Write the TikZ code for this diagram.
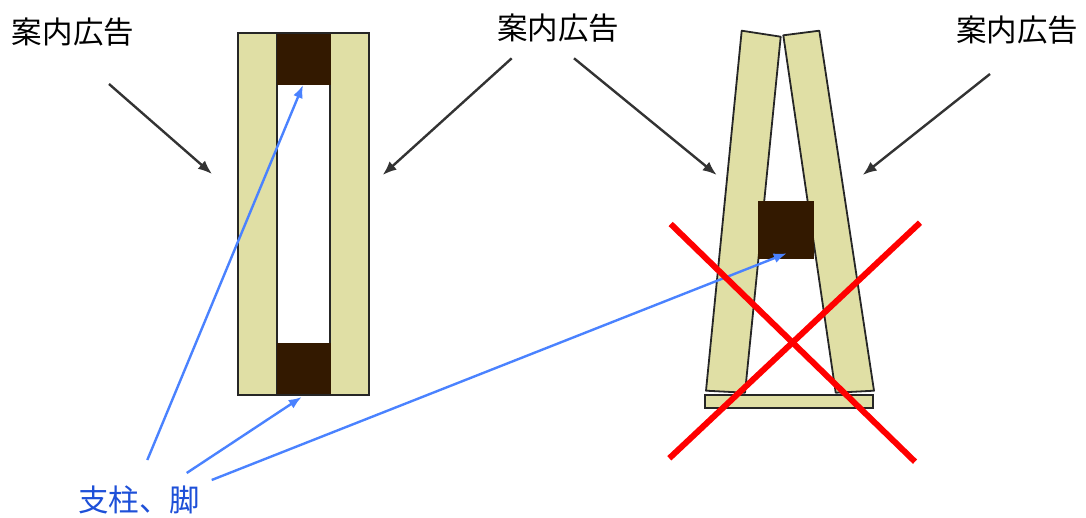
\documentclass[tikz,border=0pt]{standalone}
\usepackage{fontspec}
\newfontfamily\jpfont{Noto Sans CJK JP}
\usetikzlibrary{arrows.meta}
\definecolor{beige}{HTML}{E0DFA5}
\definecolor{darkpost}{HTML}{331900}
\definecolor{arrowblue}{HTML}{4A82FF}
\definecolor{textblue}{HTML}{1E50D8}
\definecolor{xred}{HTML}{FF0000}
\tikzset{
  panel/.style={fill=beige, draw=black!85, line width=1.8pt},
  post/.style={fill=darkpost, draw=darkpost, line width=0.8pt},
  label/.style={font=\jpfont\fontsize{30.5}{34}\selectfont, inner sep=0pt},
  blackarrow/.style={draw=black!80, line width=2.4pt, -{Latex[length=14pt,width=11pt]}},
  bluearrow/.style={draw=arrowblue, line width=2.4pt, -{Latex[length=13pt,width=10pt]}},
  cross/.style={draw=xred, line width=6pt}
}
\begin{document}
\begin{tikzpicture}[x=1pt,y=-1pt]
\useasboundingbox (0,0) rectangle (1086,518);

% ---- left figure (correct) ----
\draw[panel] (238,33) rectangle (277,395);
\draw[panel] (330,33) rectangle (369,395);
\draw[post] (277,33) rectangle (330,84);
\draw[post] (277,343) rectangle (330,395);
\draw[black!85, line width=1.8pt] (238,33) rectangle (369,395);

% ---- right figure (wrong) ----
\draw[panel, line join=round] (741.7,30.7) -- (780.7,36.7) -- (745,392.7) -- (706,390.7) -- cycle;
\draw[panel, line join=round] (783.3,35.3) -- (819.3,30.7) -- (874,390.7) -- (835.7,392.7) -- cycle;
\draw[panel] (705,395) rectangle (873.3,408.3);
\draw[post] (758.3,201.7) rectangle (813.3,258.3);

% ---- labels ----
\node[label] (adL)  at (73,32)  {案内広告};
\node[label] (adM)  at (558,28) {案内広告};
\node[label] (adR)  at (1017,30) {案内広告};
\node[label, text=textblue] (posts) at (139,500) {支柱、脚};

% ---- arrow end points ----
\coordinate (a1s) at (109,84);    \coordinate (a1e) at (212,174);
\coordinate (a2s) at (511.7,58.3);\coordinate (a2e) at (382.7,175);
\coordinate (a3s) at (574,58.3);  \coordinate (a3e) at (716.7,175);
\coordinate (a4s) at (990,74);    \coordinate (a4e) at (862.7,175);

\coordinate (b1s) at (147.3,460); \coordinate (b1e) at (303,85);
\coordinate (b2s) at (186.7,473); \coordinate (b2e) at (301.7,397);
\coordinate (b3s) at (211.7,480); \coordinate (b3e) at (786.7,253.3);

\draw[blackarrow] (a1s) -- (a1e);
\draw[blackarrow] (a2s) -- (a2e);
\draw[blackarrow] (a3s) -- (a3e);
\draw[blackarrow] (a4s) -- (a4e);

\draw[bluearrow] (b1s) -- (b1e);
\draw[bluearrow] (b2s) -- (b2e);
\draw[bluearrow] (b3s) -- (b3e);

% ---- red cross ----
\coordinate (x1s) at (670.7,224);  \coordinate (x1e) at (915,461.7);
\coordinate (x2s) at (920,222.7);  \coordinate (x2e) at (669.3,458.3);
\draw[cross] (x1s) -- (x1e);
\draw[cross] (x2s) -- (x2e);
\end{tikzpicture}
\end{document}
